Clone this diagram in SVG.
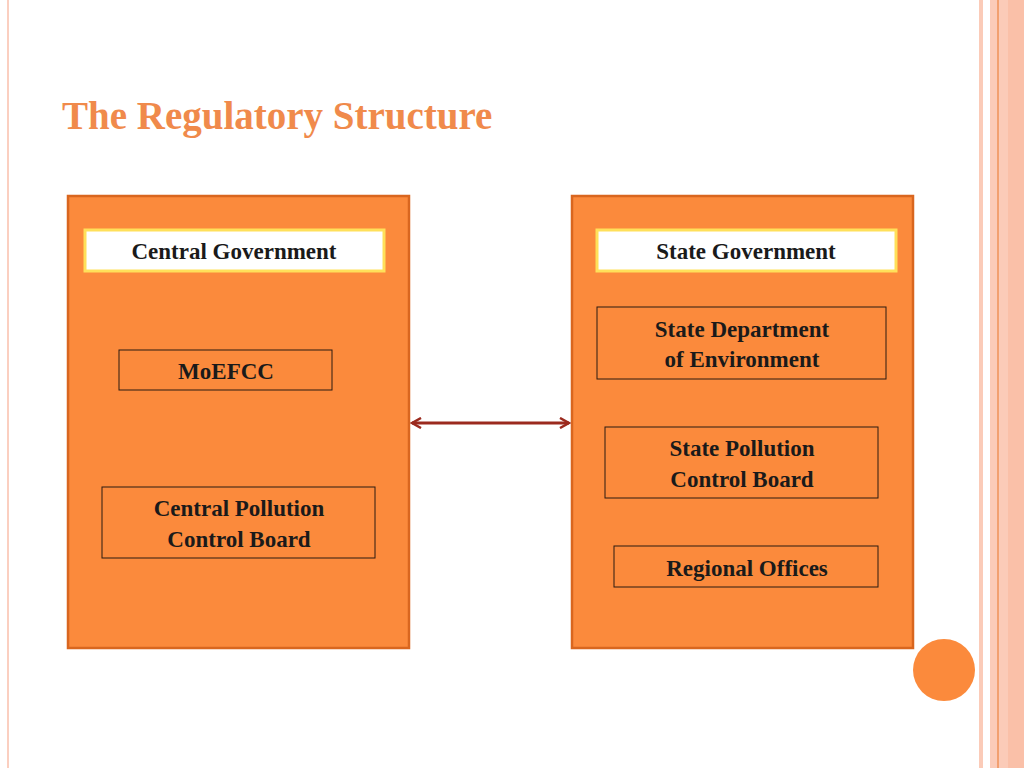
<svg xmlns="http://www.w3.org/2000/svg" width="1024" height="768" viewBox="0 0 1024 768">
<defs>
<style>
.panel{fill:#FB8A3C;stroke:#D9661F;stroke-width:2.5}
.hdr{fill:#fff;stroke:#FFE05A;stroke-width:3}
.box{fill:#FB8A3C;stroke:#2b1a10;stroke-width:1}
.t{font-family:"Liberation Serif",serif;font-weight:bold;font-size:23px;fill:#1a1a1a;text-anchor:middle}
</style>
<marker id="ah" viewBox="0 0 12 12" refX="10" refY="6" markerWidth="12" markerHeight="12" markerUnits="userSpaceOnUse" orient="auto-start-reverse">
<path d="M1,1 L10,6 L1,11" fill="none" stroke="#9B2A1E" stroke-width="2.5"/>
</marker>
</defs>
<rect width="1024" height="768" fill="#fff"/>
<rect x="7" y="0" width="2" height="768" fill="#FBCFC0"/>
<rect x="979" y="0" width="4" height="768" fill="#FBCBB8"/>
<rect x="990" y="0" width="34" height="768" fill="#FBCBB8"/>
<rect x="997" y="0" width="2" height="768" fill="#F2A070"/>
<rect x="1008" y="0" width="16" height="768" fill="#FAC0A8"/>
<circle cx="944" cy="670" r="31" fill="#FB8A3C"/>
<text x="62" y="129" font-family="Liberation Serif,serif" font-weight="bold" font-size="39" fill="#F08A4B">The Regulatory Structure</text>
<g id="central">
<rect class="panel" x="68" y="196" width="341" height="452"/>
</g>
<g id="state">
<rect class="panel" x="572" y="196" width="341" height="452"/>
</g>
<g id="central-gov"><rect class="hdr" x="85" y="230" width="299" height="41"/><text class="t" x="234" y="259">Central Government</text></g>
<g id="moefcc"><rect class="box" x="119" y="350" width="213" height="40"/><text class="t" x="226" y="379">MoEFCC</text></g>
<g id="cpcb"><rect class="box" x="102" y="487" width="273" height="71"/><text class="t" x="239" y="516">Central Pollution</text><text class="t" x="239" y="547">Control Board</text></g>
<g id="state-gov"><rect class="hdr" x="597" y="230" width="299" height="41"/><text class="t" x="746" y="259">State Government</text></g>
<g id="sde"><rect class="box" x="597" y="307" width="289" height="72"/><text class="t" x="742" y="337">State Department</text><text class="t" x="742" y="367">of Environment</text></g>
<g id="spcb"><rect class="box" x="605" y="427" width="273" height="71"/><text class="t" x="742" y="456">State Pollution</text><text class="t" x="742" y="487">Control Board</text></g>
<g id="ro"><rect class="box" x="614" y="546" width="264" height="41"/><text class="t" x="747" y="576">Regional Offices</text></g>
<g id="connectors">
<line x1="412" y1="423" x2="569" y2="423" stroke="#9B2A1E" stroke-width="3" marker-start="url(#ah)" marker-end="url(#ah)"/>
</g>
</svg>
